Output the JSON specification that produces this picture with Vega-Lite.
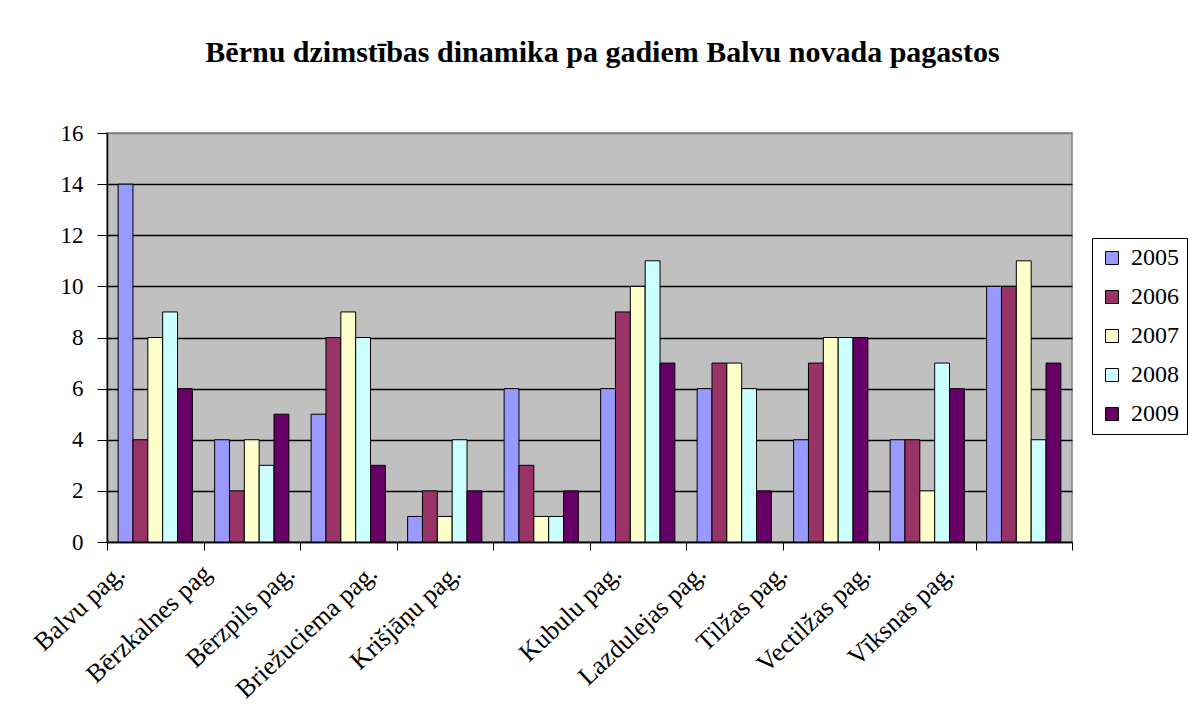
{
  "$schema": "https://vega.github.io/schema/vega-lite/v6.json",
  "autosize": "none",
  "width": 965,
  "height": 409,
  "padding": {"left": 107, "top": 133, "right": 116, "bottom": 185},
  "background": "white",
  "title": {
    "text": "Bērnu dzimstības dinamika pa gadiem Balvu novada pagastos",
    "font": "Liberation Serif",
    "fontSize": 30,
    "fontWeight": "bold",
    "color": "black",
    "anchor": "middle",
    "frame": "group",
    "dx": 13,
    "offset": 54
  },
  "data": {
    "values": [
      {"pag": "Balvu pag.", "gads": "2005", "v": 14},
      {"pag": "Balvu pag.", "gads": "2006", "v": 4},
      {"pag": "Balvu pag.", "gads": "2007", "v": 8},
      {"pag": "Balvu pag.", "gads": "2008", "v": 9},
      {"pag": "Balvu pag.", "gads": "2009", "v": 6},
      {"pag": "Bērzkalnes pag", "gads": "2005", "v": 4},
      {"pag": "Bērzkalnes pag", "gads": "2006", "v": 2},
      {"pag": "Bērzkalnes pag", "gads": "2007", "v": 4},
      {"pag": "Bērzkalnes pag", "gads": "2008", "v": 3},
      {"pag": "Bērzkalnes pag", "gads": "2009", "v": 5},
      {"pag": "Bērzpils pag.", "gads": "2005", "v": 5},
      {"pag": "Bērzpils pag.", "gads": "2006", "v": 8},
      {"pag": "Bērzpils pag.", "gads": "2007", "v": 9},
      {"pag": "Bērzpils pag.", "gads": "2008", "v": 8},
      {"pag": "Bērzpils pag.", "gads": "2009", "v": 3},
      {"pag": "Briežuciema pag.", "gads": "2005", "v": 1},
      {"pag": "Briežuciema pag.", "gads": "2006", "v": 2},
      {"pag": "Briežuciema pag.", "gads": "2007", "v": 1},
      {"pag": "Briežuciema pag.", "gads": "2008", "v": 4},
      {"pag": "Briežuciema pag.", "gads": "2009", "v": 2},
      {"pag": "Krišjāņu pag.", "gads": "2005", "v": 6},
      {"pag": "Krišjāņu pag.", "gads": "2006", "v": 3},
      {"pag": "Krišjāņu pag.", "gads": "2007", "v": 1},
      {"pag": "Krišjāņu pag.", "gads": "2008", "v": 1},
      {"pag": "Krišjāņu pag.", "gads": "2009", "v": 2},
      {"pag": "Kubulu pag.", "gads": "2005", "v": 6},
      {"pag": "Kubulu pag.", "gads": "2006", "v": 9},
      {"pag": "Kubulu pag.", "gads": "2007", "v": 10},
      {"pag": "Kubulu pag.", "gads": "2008", "v": 11},
      {"pag": "Kubulu pag.", "gads": "2009", "v": 7},
      {"pag": "Lazdulejas pag.", "gads": "2005", "v": 6},
      {"pag": "Lazdulejas pag.", "gads": "2006", "v": 7},
      {"pag": "Lazdulejas pag.", "gads": "2007", "v": 7},
      {"pag": "Lazdulejas pag.", "gads": "2008", "v": 6},
      {"pag": "Lazdulejas pag.", "gads": "2009", "v": 2},
      {"pag": "Tilžas pag.", "gads": "2005", "v": 4},
      {"pag": "Tilžas pag.", "gads": "2006", "v": 7},
      {"pag": "Tilžas pag.", "gads": "2007", "v": 8},
      {"pag": "Tilžas pag.", "gads": "2008", "v": 8},
      {"pag": "Tilžas pag.", "gads": "2009", "v": 8},
      {"pag": "Vectilžas pag.", "gads": "2005", "v": 4},
      {"pag": "Vectilžas pag.", "gads": "2006", "v": 4},
      {"pag": "Vectilžas pag.", "gads": "2007", "v": 2},
      {"pag": "Vectilžas pag.", "gads": "2008", "v": 7},
      {"pag": "Vectilžas pag.", "gads": "2009", "v": 6},
      {"pag": "Vīksnas pag.", "gads": "2005", "v": 10},
      {"pag": "Vīksnas pag.", "gads": "2006", "v": 10},
      {"pag": "Vīksnas pag.", "gads": "2007", "v": 11},
      {"pag": "Vīksnas pag.", "gads": "2008", "v": 4},
      {"pag": "Vīksnas pag.", "gads": "2009", "v": 7}
    ]
  },
  "mark": {"type": "bar", "stroke": "black", "strokeWidth": 1},
  "encoding": {
    "x": {
      "field": "pag",
      "type": "nominal",
      "sort": null,
      "scale": {"paddingInner": 0, "paddingOuter": 0},
      "axis": {
        "title": null,
        "labelAngle": -43,
        "labelAlign": "right",
        "labelBaseline": "middle",
        "labelFont": "Liberation Serif",
        "labelFontSize": 26,
        "labelColor": "black",
        "labelLimit": 400,
        "labelPadding": 19,
        "labelOffset": {
          "condition": [
            {"test": "datum.value == 'Balvu pag.'", "value": -35},
            {"test": "datum.value == 'Bērzkalnes pag'", "value": -45},
            {"test": "datum.value == 'Bērzpils pag.'", "value": -58},
            {"test": "datum.value == 'Briežuciema pag.'", "value": -72},
            {"test": "datum.value == 'Krišjāņu pag.'", "value": -85},
            {"test": "datum.value == 'Kubulu pag.'", "value": -21},
            {"test": "datum.value == 'Lazdulejas pag.'", "value": -33},
            {"test": "datum.value == 'Tilžas pag.'", "value": -48},
            {"test": "datum.value == 'Vectilžas pag.'", "value": -61}
          ],
          "value": -74
        },
        "labelOverlap": false,
        "tickBand": "extent",
        "tickSize": 8,
        "tickColor": "black",
        "domainColor": "black",
        "domainWidth": 1.5,
        "grid": false
      }
    },
    "xOffset": {
      "field": "gads",
      "type": "nominal",
      "scale": {"paddingInner": 0, "paddingOuter": 0.75}
    },
    "y": {
      "field": "v",
      "type": "quantitative",
      "scale": {"domain": [0, 16], "nice": false},
      "axis": {
        "title": null,
        "values": [0, 2, 4, 6, 8, 10, 12, 14, 16],
        "labelFont": "Liberation Serif",
        "labelFontSize": 23,
        "labelColor": "black",
        "labelPadding": 14,
        "tickSize": 10,
        "tickColor": "black",
        "domainColor": "black",
        "domainWidth": 1.5,
        "grid": true,
        "gridColor": {"condition": {"test": "datum.value == 16", "value": "#808080"}, "value": "black"},
        "gridWidth": 1.5,
        "gridOpacity": 1
      }
    },
    "color": {
      "field": "gads",
      "type": "nominal",
      "scale": {
        "domain": ["2005", "2006", "2007", "2008", "2009"],
        "range": ["#9999FF", "#993366", "#FFFFCC", "#CCFFFF", "#660066"]
      },
      "legend": {
        "title": null,
        "orient": "none",
        "legendX": 985,
        "legendY": 105,
        "strokeColor": "black",
        "fillColor": "white",
        "padding": 8,
        "symbolType": "square",
        "symbolSize": 169,
        "symbolStrokeColor": "black",
        "symbolStrokeWidth": 1,
        "labelFont": "Liberation Serif",
        "labelFontSize": 24,
        "labelColor": "black",
        "labelOffset": 7,
        "clipHeight": 24,
        "rowPadding": 15
      }
    }
  },
  "config": {
    "view": {"fill": "#C0C0C0", "stroke": "#808080", "strokeWidth": 1.5}
  }
}
